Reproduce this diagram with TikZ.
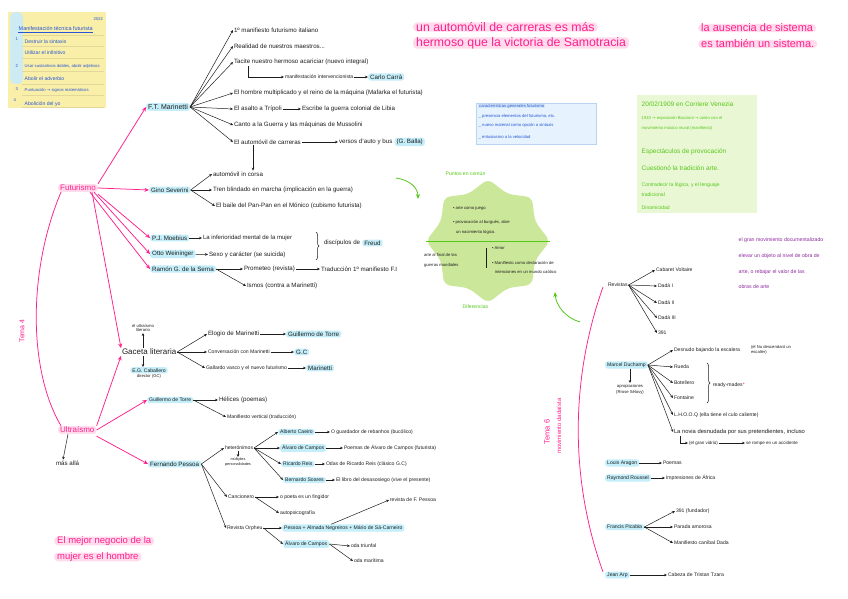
\documentclass[tikz,border=0pt]{standalone}
\usepackage{fontspec}
\setmainfont{Liberation Sans}
\newfontfamily\symf{DejaVu Sans}
\usetikzlibrary{arrows.meta,shapes.geometric,decorations.pathreplacing,calc,positioning}
\definecolor{ink}{HTML}{1E1E1E}
\definecolor{pinkc}{HTML}{FF1F8E}
\definecolor{hlp}{HTML}{FFDCEC}
\definecolor{hlb}{HTML}{C4EEF9}
\definecolor{bluet}{HTML}{2656D6}
\definecolor{greent}{HTML}{55C81A}
\definecolor{starg}{HTML}{CBE79A}
\definecolor{greenbox}{HTML}{EAF7D5}
\definecolor{notey}{HTML}{FAEFA8}
\definecolor{notel}{HTML}{E2D89A}
\definecolor{tapeb}{HTML}{CDEBF2}
\definecolor{purp}{HTML}{8E2AA0}
\definecolor{bluebox}{HTML}{E6F2FD}
\definecolor{blueline}{HTML}{B8D4F0}
\newcommand\fa{\fontsize{6.2}{7}\selectfont}
\newcommand\fsm{\fontsize{5.1}{6}\selectfont}
\newcommand\fxs{\fontsize{4.2}{4.8}\selectfont}
\newcommand\fpk{\fontsize{8}{9}\selectfont}
\newcommand\fq{\fontsize{12.3}{13}\selectfont}
\newcommand\fqs{\fontsize{9.5}{10.5}\selectfont}
\newcommand\ra{{\symf →}}
\tikzset{
 lb/.style={anchor=west, inner sep=0.8pt, text=ink, font=\fa},
 sl/.style={lb, font=\fsm},
 xs/.style={lb, font=\fxs},
 hl/.style={lb, fill=hlb, rounded corners=2.5pt, inner xsep=2pt, inner ysep=1.2pt},
 ar/.style={draw=ink, line width=0.5pt, -{Stealth[length=3pt,width=2.6pt]}},
 pa/.style={draw=pinkc, line width=0.75pt, -{Stealth[length=4.5pt,width=4pt]}},
 pk/.style={anchor=west, text=pinkc, fill=hlp, rounded corners=3pt, inner xsep=2pt, inner ysep=1pt, font=\fpk},
 qt/.style={anchor=west, text=pinkc, fill=hlp, rounded corners=4pt, inner xsep=3pt, inner ysep=0pt, font=\fq},
 gt/.style={anchor=west, text=greent, inner sep=0.5pt, font=\fontsize{6.5}{7.5}\selectfont},
 bt/.style={anchor=west, text=bluet, inner sep=0.5pt, font=\fsm},
 pt/.style={anchor=west, text=purp, inner sep=0.5pt, font=\fontsize{5.2}{6}\selectfont},
 brc/.style={draw=ink, line width=0.5pt, decorate, decoration={brace, amplitude=3pt}},
 garr/.style={draw=greent, line width=0.8pt, -{Stealth[length=5pt,width=4pt]}},
}
\begin{document}
\begin{tikzpicture}[x=1pt,y=-1pt]
\useasboundingbox (0,0) rectangle (848,599);
\fill[white] (0,0) rectangle (848,599);

% ---------- sticky note ----------
\fill[notey] (8,12) rectangle (106,108);
\fill[tapeb, rounded corners=5pt] (10,12) rectangle (23,84);
\foreach \yy in {35,46,58,71,84,95,107} \draw[notel, line width=0.4pt] (22,\yy) -- (104,\yy);
\node[bt, font=\fxs] (n0) at (93,19) {2022};
\node[bt, font=\fontsize{5.5}{6}\selectfont] (n1) at (18,29) {Manifestación técnica futurista};
\draw[bluet, line width=0.4pt] (n1.south west) -- (n1.south east);
\node[bt, font=\fxs] (k1) at (15,39) {1};
\node[bt] (n2) at (24,42) {Destruir la sintaxis};
\node[bt] (n3) at (24,53) {Utilizar el infinitivo};
\node[bt, font=\fxs] (k2) at (15,66) {2};
\node[bt, font=\fxs] (n4) at (24,66) {Usar sustantivos dobles, abolir adjetivos};
\node[bt] (n5) at (24,79) {Abolir el adverbio};
\node[bt, font=\fxs] (k3) at (15,89) {3};
\node[bt, font=\fxs] (n6) at (24,90) {Puntuación \ra\ signos matemáticos};
\node[bt, font=\fxs] (k4) at (13,100) {4};
\node[bt] (n7) at (24,104) {Abolición del yo};

% ---------- quotes ----------
\node[qt] (q1) at (413,27) {un automóvil de carreras es más};
\node[qt] (q2) at (413,43) {hermoso que la victoria de Samotracia};
\node[qt, font=\fontsize{11}{12}\selectfont] (q5) at (698,28) {la ausencia de sistema};
\node[qt, font=\fontsize{11}{12}\selectfont] (q6) at (698,44) {es también un sistema.};
\node[qt, font=\fqs] (q3) at (54,541) {El mejor negocio de la};
\node[qt, font=\fqs] (q4) at (54,557) {mujer es el hombre};

% ---------- main pink tree ----------
\node[pk] (fut) at (58,188) {Futurismo};
\node[pk] (ult) at (58,430) {Ultraísmo};
\node[rotate=90, text=pinkc, font=\fontsize{7}{8}\selectfont] (t4) at (22,331) {Tema 4};
\draw[pinkc, line width=0.75pt] ([xshift=3pt]fut.south west) .. controls (28,270) and (28,370) .. ([xshift=3pt]ult.north west);
\node[lb] (mas) at (55,463) {más allá};
\draw[ar] ([xshift=10pt]ult.south west) -- ([xshift=8pt]mas.north west);

\node[hl, font=\fontsize{7}{8}\selectfont] (mar) at (146,107) {F.T. Marinetti};
\node[hl] (gino) at (149,190) {Gino Severini};
\node[hl] (moe) at (150,238) {P.J. Moebius};
\node[hl] (otto) at (150,254) {Otto Weininger};
\node[hl] (ram) at (150,269) {Ramón G. de la Serna};
\draw[pa] (fut.north east) -- (mar.west);
\draw[pa] (fut.east) -- (gino.west);
\draw[pa] ([yshift=-2pt]fut.south east) -- (moe.west);
\draw[pa] ([xshift=-4pt]fut.south east) -- (otto.west);
\draw[pa] ([xshift=-8pt]fut.south east) -- (ram.west);

% Marinetti
\node[lb] (m1) at (233,30) {1º manifiesto futurismo italiano};
\node[lb] (m2) at (233,46) {Realidad de nuestros maestros...};
\node[lb] (m3) at (233,62) {Tacite nuestro hermoso acariciar (nuevo integral)};
\node[sl] (m3b) at (284,77) {manifestación intervencionista};
\node[hl] (carra) at (368,77) {Carlo Carrà};
\node[lb] (m4) at (233,93) {El hombre multiplicado y el reino de la máquina (Mafarka el futurista)};
\node[lb] (m5) at (233,109) {El asalto a Trípoli};
\node[lb] (m5b) at (301,109) {Escribe la guerra colonial de Libia};
\node[lb] (m6) at (233,125) {Canto a la Guerra y las máquinas de Mussolini};
\node[lb] (m7) at (233,142) {El automóvil de carreras};
\node[lb] (m7b) at (338,142) {versos d'auto y bus};
\node[hl, right=1pt of m7b] (balla) {(G. Balla)};
\foreach \c in {m1,m2,m3,m4,m5,m6,m7} \draw[ar] (mar.east) -- (\c.west);
\draw[ar] ($(m3.south west)+(15,0)$) |- (m3b.west);
\draw[ar] (m3b) -- (carra);
\draw[ar] (m5) -- (m5b);
\draw[ar] (m7) -- (m7b);

% Severini
\node[lb] (s1) at (212,174) {automóvil in corsa};
\node[lb] (s2) at (212,190) {Tren blindado en marcha (implicación en la guerra)};
\node[lb] (s3) at (215,206) {El baile del Pan-Pan en el Mónico (cubismo futurista)};
\draw[ar] ($(m7.south west)+(20,0)$) -- ($(s1.north west)+(41,0)$);
\foreach \c in {s1,s2,s3} \draw[ar] (gino.east) -- (\c.west);

% Moebius / Weininger
\node[lb, font=\fontsize{6}{7}\selectfont] (moeb) at (202,238) {La inferioridad mental de la mujer};
\node[lb] (ottob) at (208,255) {Sexo y carácter (se suicida)};
\draw[ar] (moe) -- (moeb);
\draw[ar] (otto) -- (ottob);
\draw[brc] (316,232) -- (316,260);
\node[lb] (disc) at (323,243) {discípulos de};
\node[hl, right=1pt of disc] (freud) {Freud};

% Ramon
\node[lb] (ram1) at (243,269) {Prometeo (revista)};
\node[lb] (ram2) at (320,269) {Traducción 1º manifiesto F.I};
\node[lb] (ram3) at (246,286) {Ismos (contra a Marinetti)};
\draw[ar] (ram) -- (ram1);
\draw[ar] (ram1) -- (ram2);
\draw[ar] (ram.east) -- (ram3.west);

% Gaceta literaria
\node[lb, font=\fontsize{8}{9}\selectfont] (gac) at (121,352) {Gaceta literaria};
\node[xs, align=center, anchor=south] (gul) at (143,333) {el ultraísmo\\literario};
\draw[ar] (gul.south |- gac.north) -- (gul.south);
\node[hl, anchor=north, font=\fsm] (egc) at (149,367) {E.G. Caballero};
\node[xs, anchor=north] (dir) at (egc.south) {director (GC)};
\draw[ar] (gul.south |- gac.south) -- (gul.south |- egc.north);
\draw[pa] ([xshift=-6pt]fut.south east) -- (gac.north west);
\draw[pa] (ult.north east) -- (gac.south west);

\node[lb] (g1) at (207,334) {Elogio de Marinetti};
\node[hl] (g1b) at (286,334) {Guillermo de Torre};
\node[sl] (g2) at (207,352) {Conversación con Marinetti};
\node[hl] (g2b) at (294,352) {G.C};
\node[sl] (g3) at (205,368) {Gallardo vasco y el nuevo futurismo};
\node[hl] (g3b) at (306,368) {Marinetti};
\foreach \c in {g1,g2,g3} \draw[ar] (gac.east) -- (\c.west);
\draw[ar] (g1) -- (g1b);
\draw[ar] (g2) -- (g2b);
\draw[ar] (g3) -- (g3b);

% Guillermo de Torre
\node[hl, font=\fsm] (gui) at (147,400) {Guillermo de Torre};
\node[lb] (gui1) at (218,400) {Hélices (poemas)};
\node[sl] (gui2) at (226,417) {Manifiesto vertical (traducción)};
\draw[pa] (ult.east) -- (gui.west);
\draw[ar] (gui) -- (gui1);
\draw[ar] (gui.east) -- (gui2.west);

% Pessoa
\node[hl] (pes) at (148,464) {Fernando Pessoa};
\draw[pa] ([yshift=-2pt]ult.south east) -- (pes.west);
\node[sl] (het) at (224,448) {heterónimos};
\node[xs, align=center, anchor=north, font=\fontsize{3.8}{4.3}\selectfont] (mul) at (238,457) {múltiples\\personalidades};
\draw[ar] (mul.north |- het.south) -- (mul.north);
\node[hl, font=\fsm] (h1) at (278,432) {Alberto Caeiro};
\node[sl] (h1b) at (330,432) {O guardador de rebanhos (bucólico)};
\node[hl, font=\fsm] (h2) at (280,448) {Álvaro de Campos};
\node[sl] (h2b) at (343,448) {Poemas de Álvaro de Campos (futurista)};
\node[hl, font=\fsm] (h3) at (281,464) {Ricardo Reis};
\node[sl] (h3b) at (325,464) {Odas de Ricardo Reis (clásico G.C)};
\node[hl, font=\fsm] (h4) at (283,480) {Bernardo Soares};
\node[sl] (h4b) at (335,480) {El libro del desasosiego (vive el presente)};
\foreach \c in {h1,h2,h3,h4} \draw[ar] (het.east) -- (\c.west);
\draw[ar] (h1) -- (h1b);
\draw[ar] (h2) -- (h2b);
\draw[ar] (h3) -- (h3b);
\draw[ar] (h4) -- (h4b);
\node[sl] (can) at (227,497) {Cancionero};
\node[sl] (can1) at (279,497) {o poeta es un fingidor};
\node[sl] (can2) at (279,513) {autopsicografía};
\draw[ar] (can.east) -- (can1.west);
\draw[ar] (can.east) -- (can2.west);
\node[sl] (orp) at (226,528) {Revista Orpheu};
\node[hl, font=\fsm] (orp1) at (282,528) {Pessoa + Almada Negreiros + Mário de Sá-Carneiro};
\node[sl] (rev) at (389,500) {revista de F. Pessoa};
\draw[ar] ($(orp1.north)+(-12,0)$) -- (rev.west);
\node[hl, font=\fsm] (alv) at (283,544) {Álvaro de Campos};
\node[sl] (oda1) at (350,546) {oda triunfal};
\node[sl] (oda2) at (353,561) {oda marítima};
\draw[ar] (orp) -- (orp1);
\draw[ar] (orp.east) -- (alv.west);
\draw[ar] (alv.east) -- (oda1.west);
\draw[ar] (alv.east) -- (oda2.west);
\draw[ar] (pes.east) -- (het.west);
\draw[ar] (pes.east) -- (can.west);
\draw[ar] (pes.east) -- (orp.west);

% ---------- blue box ----------
\filldraw[fill=bluebox, draw=blueline, line width=0.4pt] (476,103) rectangle (596,144);
\node[bt, font=\fxs, fill=blueline!60, inner xsep=1pt] (bb0) at (478,106) {características generales futurismo};
\node[bt, font=\fxs] (bb1) at (478,116) {\_ presencia elementos del futurismo, etc.};
\node[bt, font=\fxs] (bb2) at (478,125) {\_ nuevo material como opción a sintaxis};
\node[bt, font=\fxs] (bb3) at (478,137) {\_ entusiasmo a la velocidad};

% ---------- green box ----------
\fill[greenbox] (637,95) rectangle (757,213);
\node[gt] (gb1) at (641,104) {20/02/1909 en Corriere Venezia};
\node[gt, font=\fxs] (gb2) at (641,118) {1910 \ra\ exposición Boccioni \ra\ unión con el};
\node[gt, font=\fxs] (gb3) at (641,128) {movimiento músico mural (manifiesto)};
\node[gt] (gb4) at (641,152) {Espectáculos de provocación};
\node[gt] (gb5) at (641,168) {Cuestionó la tradición arte.};
\node[gt, font=\fsm] (gb6) at (641,185) {Contradecir la lógica, y el lenguaje};
\node[gt, font=\fsm] (gb7) at (641,195) {tradicional};
\node[gt, font=\fsm] (gb8) at (641,208) {Dinamicidad};

% ---------- star ----------
\node[star, star points=8, star point ratio=1.22, minimum size=124pt, fill=starg, rounded corners=6pt, inner sep=0pt] (st) at (488,241) {};
\node[gt, font=\fsm] (pc) at (445,174) {Puntos en común};
\node[gt, font=\fsm] (df) at (462,307) {Diferencias};
\draw[greent, line width=1pt] (st.west) -- (st.east);
\node[xs] (sc1) at (452,208) {\textbullet\ arte como juego};
\node[xs] (sc2) at (452,222) {\textbullet\ provocación al burgués, abre};
\node[xs] (sc3) at (455,232) {un nacimiento lógico.};
\node[xs] (sd1) at (423,255) {arte al final de las};
\node[xs] (sd2) at (423,265) {guerras mundiales};
\node[xs] (sd3) at (491,248) {\textbullet\ Amor};
\node[xs] (sd4) at (491,263) {\textbullet\ Manifiesto como declaración de};
\node[xs] (sd5) at (494,272) {intenciones en un mundo caótico};
\draw[ink, line width=0.8pt] ($(st.center)+(-2,7)$) -- ($(st.center)+(-2,27)$);
\coordinate (ga1) at (396,178);
\coordinate (ga2) at (580,322);
\draw[garr] (ga1) .. controls (410,180) and (418,188) .. (418,199);
\draw[garr] (ga2) .. controls (566,318) and (556,306) .. (555,292);

% ---------- purple note ----------
\node[pt] (pp1) at (738,240) {el gran movimiento documentalizado};
\node[pt] (pp2) at (738,256) {elevar un objeto al nivel de obra de};
\node[pt] (pp3) at (738,272) {arte, o rebajar el valor de las};
\node[pt] (pp4) at (738,287) {obras de arte};

% ---------- Dada ----------
\node[rotate=90, text=pinkc, font=\fontsize{7.5}{8}\selectfont] (t6) at (547,432) {Tema 6};
\node[rotate=90, text=pinkc, font=\fontsize{6}{7}\selectfont] (t6b) at (559,426) {movimiento dadaísta};
\coordinate (dtop) at (603,287);
\coordinate (dbot) at (603,572);
\draw[pinkc, line width=0.75pt] (dtop) .. controls (570,380) and (570,480) .. (dbot);

\node[sl] (rvs) at (607,285) {Revistas};
\node[sl] (cv) at (655,270) {Cabaret Voltaire};
\node[sl] (d1) at (657,286) {Dadá I};
\node[sl] (d2) at (657,303) {Dadá II};
\node[sl] (d3) at (657,318) {Dadá III};
\node[sl] (d4) at (657,333) {391};
\foreach \c in {cv,d1,d2,d3,d4} \draw[ar] (rvs.east) -- (\c.west);

\node[hl, font=\fsm] (duch) at (605,365) {Marcel Duchamp};
\node[xs, anchor=north, align=center] (apr) at (630,383) {apropiaciones\\[2pt](Rrose Sélavy)};
\draw[ar] (apr.north |- duch.south) -- (apr.north);
\node[sl] (du1) at (673,350) {Desnudo bajando la escalera};
\node[xs, align=left] (du1b) at (750,350) {(el Nu descendant un\\escalier)};
\node[sl] (du2) at (673,367) {Rueda};
\node[sl] (du3) at (673,383) {Botellero};
\node[sl] (du4) at (673,398) {Fontaine};
\draw[brc] (707,363) -- (707,403);
\node[sl] (rm) at (712,385) {ready-mades\textcolor{pinkc}{*}};
\node[sl] (du5) at (673,415) {L.H.O.O.Q (ella tiene el culo caliente)};
\node[sl, font=\fontsize{5.8}{6.5}\selectfont] (du6) at (673,432) {La novia desnudada por sus pretendientes, incluso};
\node[xs, font=\fontsize{4.5}{5}\selectfont] (du7) at (688,443) {(el gran vidrio)};
\node[xs, font=\fontsize{4.5}{5}\selectfont] (du8) at (745,443) {se rompe en un accidente};
\foreach \c in {du1,du2,du3,du4,du5,du6} \draw[ar] (duch.east) -- (\c.west);
\draw[ar] ($(du6.south west)+(7,0)$) |- (du7.west);
\draw[ar] (du7) -- (du8);

\node[hl, font=\fsm] (ara) at (605,463) {Louis Aragon};
\node[sl] (ara1) at (662,463) {Poemas};
\draw[ar] (ara) -- (ara1);
\node[hl, font=\fsm] (rou) at (605,478) {Raymond Roussel};
\node[sl] (rou1) at (665,478) {Impresiones de África};
\draw[ar] (rou) -- (rou1);

\node[hl, font=\fsm] (pic) at (605,527) {Francis Picabia};
\node[sl] (pi1) at (675,511) {391 (fundador)};
\node[sl] (pi2) at (673,527) {Parada amorosa};
\node[sl] (pi3) at (673,543) {Manifiesto caníbal Dada};
\foreach \c in {pi1,pi2,pi3} \draw[ar] (pic.east) -- (\c.west);

\node[hl, font=\fsm] (arp) at (605,575) {Jean Arp};
\node[sl] (arp1) at (667,575) {Cabeza de Tristan Tzara};
\draw[ar] (arp) -- (arp1);
\end{tikzpicture}
\end{document}
